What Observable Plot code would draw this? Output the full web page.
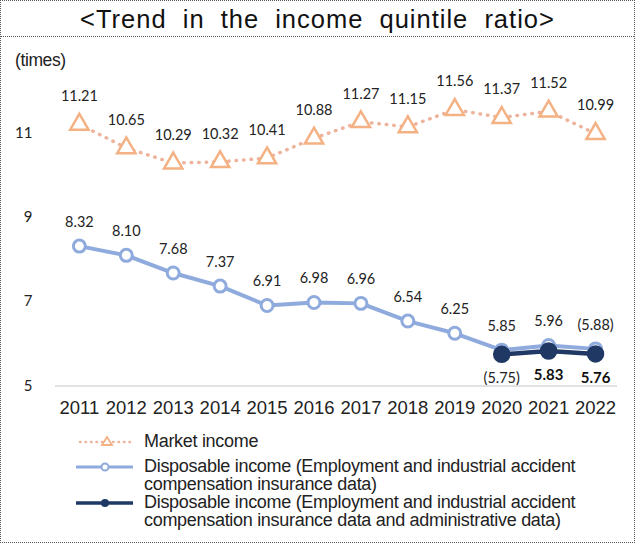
<!DOCTYPE html>
<html><head><meta charset="utf-8">
<script src="https://cdn.jsdelivr.net/npm/d3@7"></script>
<script src="https://cdn.jsdelivr.net/npm/@observablehq/plot@0.6"></script>
<style>
body{margin:0;background:#fff;}
#wrap{position:relative;width:635px;height:543px;box-sizing:border-box;border:1px dotted #555;overflow:hidden;font-family:"Liberation Sans",Arial,sans-serif;}
#title{height:36px;box-sizing:border-box;border-bottom:1px dotted #555;text-align:center;font-size:25.5px;line-height:36px;word-spacing:8px;letter-spacing:1px;color:#111;white-space:nowrap;}
#unit{position:absolute;left:14px;top:49px;font-size:17.5px;color:#222;letter-spacing:-0.4px;}
#chart{position:absolute;left:-1px;top:36px;}
#legend{position:absolute;left:74px;top:431px;font-size:18px;line-height:18px;color:#222;letter-spacing:-0.3px;}
.item{display:flex;align-items:flex-start;}
.item svg{flex:none;margin-right:9px;}
</style></head>
<body><div id="wrap">
<div id="title">&lt;Trend in the income quintile ratio&gt;</div>
<div id="unit">(times)</div>
<div id="chart"></div>
<div id="legend"></div>
</div>
<script>
const years = [2011,2012,2013,2014,2015,2016,2017,2018,2019,2020,2021,2022];
const market = [11.21,10.65,10.29,10.32,10.41,10.88,11.27,11.15,11.56,11.37,11.52,10.99];
const dispYears = [2011,2012,2013,2014,2015,2016,2017,2018,2019,2020,2021,2022];
const disp = [8.32,8.10,7.68,7.37,6.91,6.98,6.96,6.54,6.25,5.85,5.96,5.88];
const dispLabels = ["8.32","8.10","7.68","7.37","6.91","6.98","6.96","6.54","6.25","5.85","5.96","(5.88)"];
const adminYears = [2020,2021,2022];
const admin = [5.75,5.83,5.76];
const adminLabels = ["(5.75)","5.83","5.76"];
const adminBold = [false,true,true];
const yTicks = [5,7,9,11];
const seriesNames = ["Market income","Disposable income (Employment and industrial accident compensation insurance data)","Disposable income (Employment and industrial accident compensation insurance data and administrative data)"];

const cOrange = "#F4B183", cLight = "#8FAADC", cDark = "#1F3864";
const mData = years.map((y,i)=>({year:y, v:market[i], label:market[i].toFixed(2)}));
const dData = dispYears.map((y,i)=>({year:y, v:disp[i], label:dispLabels[i]}));
const aData = adminYears.map((y,i)=>({year:y, v:admin[i], label:adminLabels[i], bold:adminBold[i]}));
const lblFont = "Lato, 'Open Sans', sans-serif";

const chart = Plot.plot({
  width: 635, height: 390,
  marginLeft: 75, marginRight: 36, marginTop: 41, marginBottom: 41,
  x: {type:"point", domain: years, padding: 0, axis: null},
  y: {domain:[5,12.3], axis: null},
  marks: [
    Plot.ruleY([5], {stroke:"#d9d9d9", strokeWidth:1.5, x1:2011, x2:2022, insetLeft:-24, insetRight:-22}),
    Plot.axisY(yTicks, {tickSize:0, tickPadding:43, fontSize:15, fill:"#222", fontFamily:lblFont, label:null}),
    Plot.axisX(years, {tickSize:0, tickPadding:15, fontSize:18.5, fill:"#222", fontFamily:"'Liberation Sans',Arial,sans-serif", label:null, tickFormat:d=>String(d)}),
    Plot.line(mData, {x:"year", y:"v", stroke:"#EDB39C", strokeWidth:3.5, strokeDasharray:"0.5 7", strokeLinecap:"round"}),
    Plot.dot(mData, {x:"year", y:"v", symbol:"triangle", r:6.8, fill:"white", stroke:cOrange, strokeWidth:2.5}),
    Plot.line(dData, {x:"year", y:"v", stroke:cLight, strokeWidth:4}),
    Plot.dot(dData, {x:"year", y:"v", r:6, fill:"white", stroke:cLight, strokeWidth:3}),
    Plot.line(aData, {x:"year", y:"v", stroke:cDark, strokeWidth:4.5}),
    Plot.dot(aData, {x:"year", y:"v", r:8, fill:cDark, stroke:cDark}),
    Plot.text(mData, {x:"year", y:"v", text:"label", dy:-28, fontSize:14.5, fill:"#222", fontFamily:lblFont}),
    Plot.text(dData, {x:"year", y:"v", text:"label", dy:-24, fontSize:14.5, fill:"#222", fontFamily:lblFont}),
    Plot.text(aData.filter(d=>!d.bold), {x:"year", y:"v", text:"label", dy:24, fontSize:14.5, fill:"#222", fontFamily:lblFont}),
    Plot.text(aData.filter(d=>d.bold), {x:"year", y:"v", text:"label", dy:24, fontSize:15, fill:"#111", fontWeight:"bold", fontFamily:lblFont})
  ]
});
document.getElementById("chart").appendChild(chart);

// legend
const leg = document.getElementById("legend");
const samples = [
  `<svg width="60" height="18"><line x1="5" y1="10" x2="58" y2="10" stroke="#EDB39C" stroke-width="2.5" stroke-dasharray="0.5 5" stroke-linecap="round"/><path d="M32,5 L37,13 L27,13 Z" fill="white" stroke="${cOrange}" stroke-width="1.8"/></svg>`,
  `<svg width="60" height="18"><line x1="1" y1="10" x2="58" y2="10" stroke="${cLight}" stroke-width="3"/><circle cx="30" cy="10" r="3.5" fill="white" stroke="${cLight}" stroke-width="2"/></svg>`,
  `<svg width="60" height="18"><line x1="1" y1="10" x2="58" y2="10" stroke="${cDark}" stroke-width="3.5"/><circle cx="30" cy="10" r="4" fill="${cDark}"/></svg>`
];
seriesNames.forEach((n,i)=>{
  const d = document.createElement("div");
  d.className = "item";
  if (i === 0) d.style.marginBottom = "7px";
  d.innerHTML = samples[i] + `<span style="width:445px">${n}</span>`;
  leg.appendChild(d);
});
</script>
</body></html>
